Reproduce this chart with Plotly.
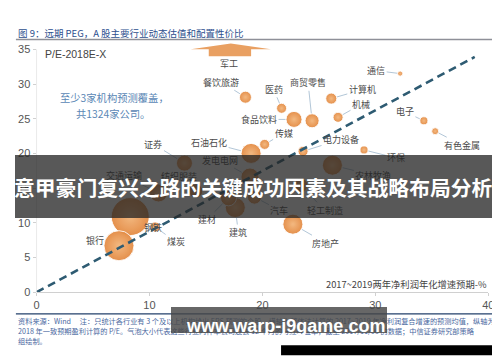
import math
import plotly.graph_objects as go

# ---------------- data ----------------
industries = ["餐饮旅游", "医药", "食品饮料", "商贸零售", "计算机", "机械", "通信", "电子", "有色金属",
              "传媒", "电力设备", "环保", "证券", "石油石化", "发电电网", "交通运输", "纺织服装",
              "农林牧渔", "汽车", "轻工制造", "建材", "建筑", "钢铁", "煤炭", "银行", "房地产"]
growth = [18.5, 21.7, 22.8, 24.4, 26.1, 26.7, 32.2, 34.3, 35.3,
          20.2, 23.6, 29.0, 13.1, 19.0, 18.9, 10.8, 14.1,
          26.2, 19.3, 23.4, 17.0, 17.6, 8.3, 10.5, 7.3, 22.7]
pe_2018 = [28.1, 26.5, 24.9, 24.7, 27.9, 25.2, 31.5, 24.7, 23.2,
           21.3, 20.3, 20.5, 18.6, 20.0, 16.6, 14.3, 14.6,
           18.3, 13.7, 15.4, 13.6, 12.2, 10.9, 9.4, 6.7, 9.8]
div_yield = [0.45, 0.31, 0.80, 0.61, 0.38, 0.31, 0.08, 0.20, 0.15,
             0.31, 0.31, 0.20, 0.80, 1.25, 1.01, 1.01, 0.61,
             1.25, 0.61, 0.61, 0.80, 1.25, 4.50, 0.31, 2.81, 1.25]

military_name = "军工"
military_growth = 17.2

peg_line_x = [0, 38.8]
peg_line_y = [0, 33.9]

x_ticks = [0, 10, 20, 30, 40]
y_ticks = [0, 5, 10, 15, 20, 25, 30, 35]

# label offsets in pixels (label centre relative to bubble centre), and whether a leader line is drawn
label_offsets = {
    "餐饮旅游": (-24, -15, True), "医药": (-8, -19, True), "食品饮料": (-35, 0, True),
    "商贸零售": (-4, -38, True), "计算机": (31, -9, True), "机械": (23, -13, True),
    "通信": (-24, -3, True), "电子": (-19, -9, True), "有色金属": (27, 14, True),
    "传媒": (19, -11, True), "电力设备": (38, -12, True), "环保": (32, 8, True),
    "证券": (-31, -19, True), "石油石化": (-42, -11, True), "发电电网": (-30, -17, True),
    "交通运输": (-34, -17, True), "纺织服装": (-17, -14, True), "农林牧渔": (41, 10, True),
    "汽车": (25, 13, True), "轻工制造": (24, 25, True), "建材": (-22, 22, True),
    "建筑": (3, 25, True), "钢铁": (23, 11, False), "煤炭": (21, 15, True),
    "银行": (-24, -5, True), "房地产": (33, 19, True),
}

# ---------------- layout geometry ----------------
W, H = 500, 362
X0_PX, X1_PX = 26, 486
Y0_PX = 289
PX_PER_Y = 7.057
YMAX = 36.3
MAX_R = 19.0
sizeref = max(div_yield) / (2 * MAX_R ** 2)

def px(x):
    return x / W

def py(y):
    return 1 - y / H

CJK = "Noto Sans CJK SC"

fig = go.Figure()

# bubbles (largest first so small ones sit on top)
order = sorted(range(len(industries)), key=lambda i: -div_yield[i])
fig.add_trace(go.Scatter(
    x=[growth[i] for i in order], y=[pe_2018[i] for i in order],
    text=[industries[i] for i in order], mode="markers", hoverinfo="text",
    marker=dict(size=[div_yield[i] for i in order], sizemode="area", sizeref=sizeref,
                color="#E38A42", gradient=dict(type="radial", color="#F3B57A"),
                line=dict(color="rgba(255,255,255,0.9)", width=1), opacity=0.95),
    cliponaxis=False,
))

# PEG reference dashed line
fig.add_trace(go.Scatter(x=peg_line_x, y=peg_line_y, mode="lines",
                         line=dict(color="#2E5B72", width=2.6, dash="8px,5px"),
                         hoverinfo="skip"))

# military (off the chart) arrow built around its growth value
ax_ = military_growth
arrow_x = [ax_ - 3.55, ax_, ax_ + 3.55, ax_ + 1.8, ax_ + 1.8, ax_ - 1.95, ax_ - 1.95, ax_ - 3.55]
arrow_y = [35.0, 35.85, 35.0, 35.0, 34.0, 34.0, 35.0, 35.0]
fig.add_trace(go.Scatter(x=arrow_x, y=arrow_y, mode="lines", fill="toself",
                         fillcolor="#E9A062", line=dict(width=0, color="#E9A062"),
                         hoverinfo="skip"))

annotations = []
# bubble labels
for i, name in enumerate(industries):
    dx, dy, line = label_offsets[name]
    r = math.sqrt(div_yield[i] / (2 * sizeref))
    annotations.append(dict(
        x=growth[i], y=pe_2018[i], xref="x", yref="y", text=name,
        showarrow=True, ax=dx, ay=dy, arrowhead=0, arrowwidth=0.9,
        arrowcolor="#A9C0D3" if line else "rgba(0,0,0,0)", standoff=r + 0.5,
        font=dict(family=CJK, size=9, color="#4A4A4A"),
    ))
annotations.append(dict(x=military_growth - 0.2, y=32.9, xref="x", yref="y", text=military_name,
                        showarrow=False, font=dict(family=CJK, size=9, color="#4A4A4A")))

# axis titles / notes
annotations += [
    dict(x=px(33), y=py(47), xref="paper", yref="paper", xanchor="left", yanchor="middle",
         text="P/E-2018E-X", showarrow=False,
         font=dict(family="Liberation Sans", size=10.5, color="#444")),
    dict(x=px(487), y=py(281), xref="paper", yref="paper", xanchor="right", yanchor="middle",
         text="2017~2019两年净利润年化增速预期-%", showarrow=False,
         font=dict(family=CJK, size=9.3, color="#444")),
    dict(x=px(105), y=py(91), xref="paper", yref="paper", xanchor="center", yanchor="middle",
         text="至少3家机构预测覆盖，", showarrow=False,
         font=dict(family=CJK, size=10.3, color="#5A87B5")),
    dict(x=px(104), y=py(107), xref="paper", yref="paper", xanchor="center", yanchor="middle",
         text="共1324家公司。", showarrow=False,
         font=dict(family=CJK, size=10.3, color="#5A87B5")),
    dict(x=px(5), y=py(25), xref="paper", yref="paper", xanchor="left", yanchor="middle",
         text="图 9：远期 PEG，A 股主要行业动态估值和配置性价比", showarrow=False,
         font=dict(family=CJK, size=9.5, color="#2D4F8E")),
]

footer_lines = [
    "资料来源：Wind　 注：只统计各行业有 3 个及以上机构给出 EPS 预测的个股，横轴为整体法计算的 2017~2019 年净利润复合增速的预测均值，纵轴为",
    "2018 年一致预期盈利计算的 P/E。气泡大小代表这些行业内样本公司过去 12 个月的分红收益率，截至 2017/11/06 的数据；中信证券研究部策略",
    "组绘制。",
]
for line_txt, yy in zip(footer_lines, [318, 328.5, 339]):
    annotations.append(dict(x=px(5), y=py(yy), xref="paper", yref="paper", xanchor="left",
                            yanchor="middle", text=line_txt, showarrow=False,
                            font=dict(family=CJK, size=7.2, color="#4A68A0")))

# overlay banner
annotations.append(dict(x=px(250), y=py(181.5), xref="paper", yref="paper", text=" ",
                        showarrow=False, width=484, height=63, bgcolor="rgba(35,35,35,0.76)",
                        borderpad=0, borderwidth=0))
annotations.append(dict(x=px(247), y=py(182), xref="paper", yref="paper",
                        text="<b>意甲豪门复兴之路的关键成功因素及其战略布局分析</b>", showarrow=False,
                        font=dict(family=CJK, size=20.8, color="white")))
# watermark
annotations.append(dict(x=px(383), y=py(330), xref="paper", yref="paper", text=" ",
                        showarrow=False, width=216, height=26, bgcolor="rgba(70,70,70,0.82)",
                        borderpad=0, borderwidth=0))
annotations.append(dict(x=px(383), y=py(336), xref="paper", yref="paper",
                        text="<b>www.warp-j9game.com</b>", showarrow=False,
                        font=dict(family="Liberation Sans", size=18, color="white")))

shapes = [
    dict(type="line", xref="x", yref="y", x0=0, x1=0, y0=0, y1=35,
         line=dict(color="#D4D4D4", width=1)),
    dict(type="line", xref="paper", yref="paper", x0=px(5), x1=px(498), y0=py(32), y1=py(32),
         line=dict(color="#8E9098", width=1.6)),
    dict(type="line", xref="paper", yref="paper", x0=px(5), x1=px(497), y0=py(311), y1=py(311),
         line=dict(color="#23406B", width=1.4)),
    dict(type="rect", xref="paper", yref="paper", x0=px(275), x1=px(491), y0=py(353), y1=py(343),
         fillcolor="black", line=dict(width=0), layer="above"),
]

fig.update_layout(
    width=W, height=H, margin=dict(l=0, r=0, t=0, b=0),
    paper_bgcolor="white", plot_bgcolor="white", showlegend=False,
    xaxis=dict(domain=[X0_PX / W, X1_PX / W], range=[0, 40], tickvals=x_ticks,
               showgrid=False, zeroline=False, showline=True, linecolor="#D0D0D0",
               ticks="outside", ticklen=3, tickcolor="#D0D0D0",
               tickfont=dict(family="Liberation Sans", size=11, color="#555")),
    yaxis=dict(domain=[(H - Y0_PX) / H, (H - Y0_PX + YMAX * PX_PER_Y) / H], range=[0, YMAX],
               tickvals=y_ticks, showgrid=False, zeroline=False, showline=False,
               ticks="outside", ticklen=3, tickcolor="#D0D0D0",
               tickfont=dict(family="Liberation Sans", size=11, color="#555")),
    annotations=annotations, shapes=shapes,
)

fig.write_html("out.html")
